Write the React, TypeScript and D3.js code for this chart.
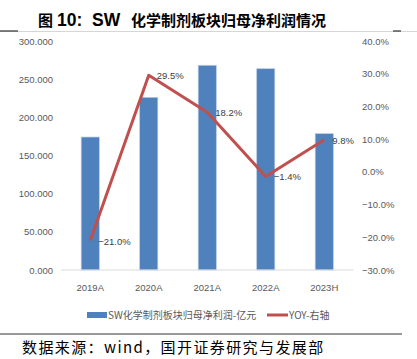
import React from "react";
import * as d3 from "d3";

const categories = ["2019A", "2020A", "2021A", "2022A", "2023H"];
const profit = [174.2, 226.2, 268.2, 263.7, 178.6];
const yoy = [-21.0, 29.5, 18.2, -1.4, 9.8];
const leftTicks = [0, 50, 100, 150, 200, 250, 300];
const rightTicks = [-30, -20, -10, 0, 10, 20, 30, 40];
const titleA = "图";
const titleB = "10:";
const titleC = "SW";
const titleD = "化学制剂板块归母净利润情况";
const source = "数据来源：wind，国开证券研究与发展部";
const legendBar = "SW化学制剂板块归母净利润-亿元";
const legendLine = "YOY-右轴";

export default function App() {
  const W = 417, H = 359;
  const x = d3.scaleBand<string>().domain(categories).range([61, 353.5]).paddingInner(0.69).paddingOuter(0.345);
  const yL = d3.scaleLinear().domain([0, 300]).range([270, 41]);
  const yR = d3.scaleLinear().domain([-30, 40]).range([270, 41]);
  const cx = (c: string) => (x(c) as number) + x.bandwidth() / 2;
  const line = d3.line<number>().x((_, i) => cx(categories[i])).y((d) => yR(d));
  const font = "'Liberation Sans', Arial, sans-serif";
  const cjk = "'Noto Sans CJK SC', sans-serif";
  return (
    <svg width={W} height={H} style={{ position: "absolute", left: 0, top: 0, background: "#fff" }}>
      <text y={25.5} fontWeight="bold" fontSize={15} fill="#000">
        <tspan x={38} fontFamily={cjk}>{titleA}</tspan>
        <tspan x={57} fontFamily={font} fontSize={17.5}>{titleB}</tspan>
        <tspan x={92} fontFamily={font} fontSize={17.5}>{titleC}</tspan>
        <tspan x={131} fontFamily={cjk}>{titleD}</tspan>
      </text>
      <line x1={0} x2={417} y1={31.5} y2={31.5} stroke="#bbb" strokeWidth={0.6} />
      <line x1={0} x2={18} y1={31} y2={31} stroke="#333" strokeWidth={1.2} />
      <line x1={393} x2={401} y1={31} y2={31} stroke="#333" strokeWidth={1.2} />
      {leftTicks.map((t) => (
        <text key={"l" + t} x={53} y={yL(t) + 3.5} textAnchor="end" fontFamily={font} fontSize={9.5} fill="#595959">{d3.format(".3f")(t)}</text>
      ))}
      {rightTicks.map((t) => (
        <text key={"r" + t} x={362} y={yR(t) + 3.5} textAnchor="start" fontFamily={font} fontSize={9.5} fill="#595959">{d3.format(".1f")(t) + "%"}</text>
      ))}
      {categories.map((c, i) => (
        <rect key={c} x={x(c)} y={yL(profit[i])} width={x.bandwidth()} height={yL(0) - yL(profit[i])} fill="#4F81BD" stroke="#B9CDE5" strokeWidth={0.7} />
      ))}
      <line x1={61} x2={353.5} y1={270} y2={270} stroke="#D9D9D9" strokeWidth={1} />
      <path d={line(yoy) || ""} fill="none" stroke="#C0504D" strokeWidth={3} strokeLinejoin="round" />
      {categories.map((c, i) => (
        <text key={"d" + c} x={cx(c) + 8} y={yR(yoy[i]) + 4} fontFamily={font} fontSize={9.5} fill="#404040">{d3.format(".1f")(yoy[i]) + "%"}</text>
      ))}
      {categories.map((c) => (
        <text key={"x" + c} x={cx(c)} y={291} textAnchor="middle" fontFamily={font} fontSize={9.5} fill="#595959">{c}</text>
      ))}
      <rect x={87} y={312} width={20} height={6} fill="#4F81BD" />
      <text x={108} y={319} fontFamily={cjk} fontSize={10} fill="#595959">{legendBar}</text>
      <line x1={267} x2={288} y1={315} y2={315} stroke="#C0504D" strokeWidth={3} />
      <text x={289} y={319} fontFamily={cjk} fontSize={10} fill="#595959">{legendLine}</text>
      <line x1={0} x2={402} y1={334} y2={334} stroke="#333" strokeWidth={1} />
      <text x={22} y={353} fontFamily={cjk} fontSize={15} letterSpacing={1.4} fill="#000">{source}</text>
    </svg>
  );
}
